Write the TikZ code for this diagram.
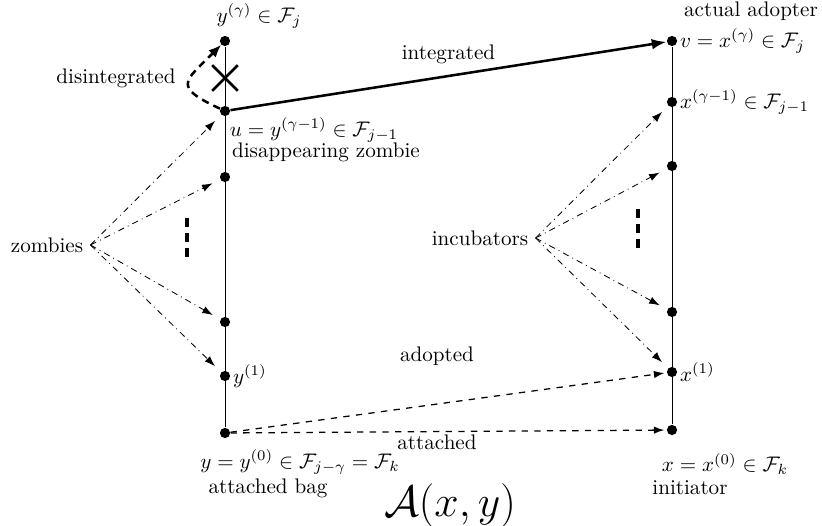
\documentclass[tikz,border=0pt]{standalone}
\usepackage{amsmath}
\usepackage{amssymb}
\usepackage{tikz}
\usetikzlibrary{arrows.meta,positioning,shapes.misc}

\tikzset{
  bag/.style={circle, fill=black, inner sep=0pt, minimum size=0.17cm},
  pointer/.style={dashdotted, -{Latex[length=5pt,width=3.5pt]}, shorten >=4pt},
  adopt/.style={dashed, semithick, -{Latex[length=5pt,width=3.5pt]}, shorten >=1pt},
  moredots/.style={line width=1.5pt, dash pattern=on 4.5pt off 2.5pt},
}

\begin{document}
\begin{tikzpicture}[x=0.01667cm, y=0.01667cm]
  \useasboundingbox (0,0) rectangle (822,-526);

  % left chain: bags y^(i)
  \node[bag] (yg) at (225,-41)  {};
  \node[bag] (u)  at (225,-111) {};
  \node[bag] (yc) at (225,-177) {};
  \node[bag] (yb) at (225,-322) {};
  \node[bag] (y1) at (225,-376) {};
  \node[bag] (y0) at (225,-433) {};
  \draw (y0) -- (yg);

  % right chain: bags x^(i)
  \node[bag] (v)   at (672,-41)  {};
  \node[bag] (xg1) at (672,-102) {};
  \node[bag] (xc)  at (672,-166) {};
  \node[bag] (xb)  at (672,-312) {};
  \node[bag] (x1)  at (672,-372) {};
  \node[bag] (x0)  at (672,-430) {};
  \draw (x0) -- (v);

  % labels on the left
  \node (ygl) at (259,-16) {$y^{(\gamma)} \in \mathcal{F}_j$};
  \node (ul) at (314,-130) {$u = y^{(\gamma-1)} \in \mathcal{F}_{j-1}$};
  \node (dz) at (326,-152) {disappearing zombie};
  \node[right=1pt of y1, inner sep=0pt] (y1l) {$y^{(1)}$};
  \node[inner sep=0pt] (y0l) at (300,-462) {$y = y^{(0)} \in \mathcal{F}_{j-\gamma} = \mathcal{F}_k$};
  \node[inner sep=1pt] (bagl) at (268,-488) {attached bag};

  % labels on the right
  \node (adopter) at (751,-11) {actual adopter};
  \node[right=1pt of v, inner sep=0pt] (vl) {$v = x^{(\gamma)} \in \mathcal{F}_j$};
  \node[right=1pt of xg1, inner sep=0pt] (xg1l) {$x^{(\gamma-1)} \in \mathcal{F}_{j-1}$};
  \node[right=1pt of x1, inner sep=0pt] (x1l) {$x^{(1)}$};
  \node[inner sep=1pt] (x0l) at (725,-464) {$x = x^{(0)} \in \mathcal{F}_k$};
  \node[inner sep=1pt] (initl) at (690,-488) {initiator};

  % disintegration of the top bag
  \node[cross out, draw, line width=1.3pt, minimum size=0.38cm, inner sep=0pt] (cut) at (225,-78) {};
  \draw[line width=1.2pt, dash pattern=on 3.5pt off 2.5pt, -{Latex[length=6pt,width=5pt]}]
    (u) to[out=155, in=225, looseness=2.1] (yg);
  \node (disint) at (116,-78) {disintegrated};

  % integration
  \draw[line width=1.2pt, -{Latex[length=7pt,width=5pt]}] (u) -- (v)
    node[midway, above=2pt] (intl) {integrated};

  % zombies
  \node (zombies) at (47,-245) {zombies};
  \foreach \t in {u,yc,yb,y1}
    \draw[pointer] (zombies.east) -- (\t);
  \draw[moredots] (187,-218) -- (187,-261);

  % incubators
  \node (incub) at (480,-238) {incubators};
  \foreach \t in {xg1,xc,xb,x1}
    \draw[pointer] (incub.east) -- (\t);
  \draw[moredots] (638,-209) -- (638,-252);

  % adopted / attached
  \draw[adopt] (y0) -- (x1);
  \draw[adopt] (y0) -- (x0);
  \node (adoptl) at (437,-356) {adopted};
  \node (attl) at (437,-442) {attached};

  \node[font=\huge, inner sep=0pt] (title) at (450,-506) {$\mathcal{A}(x,y)$};
\end{tikzpicture}
\end{document}
